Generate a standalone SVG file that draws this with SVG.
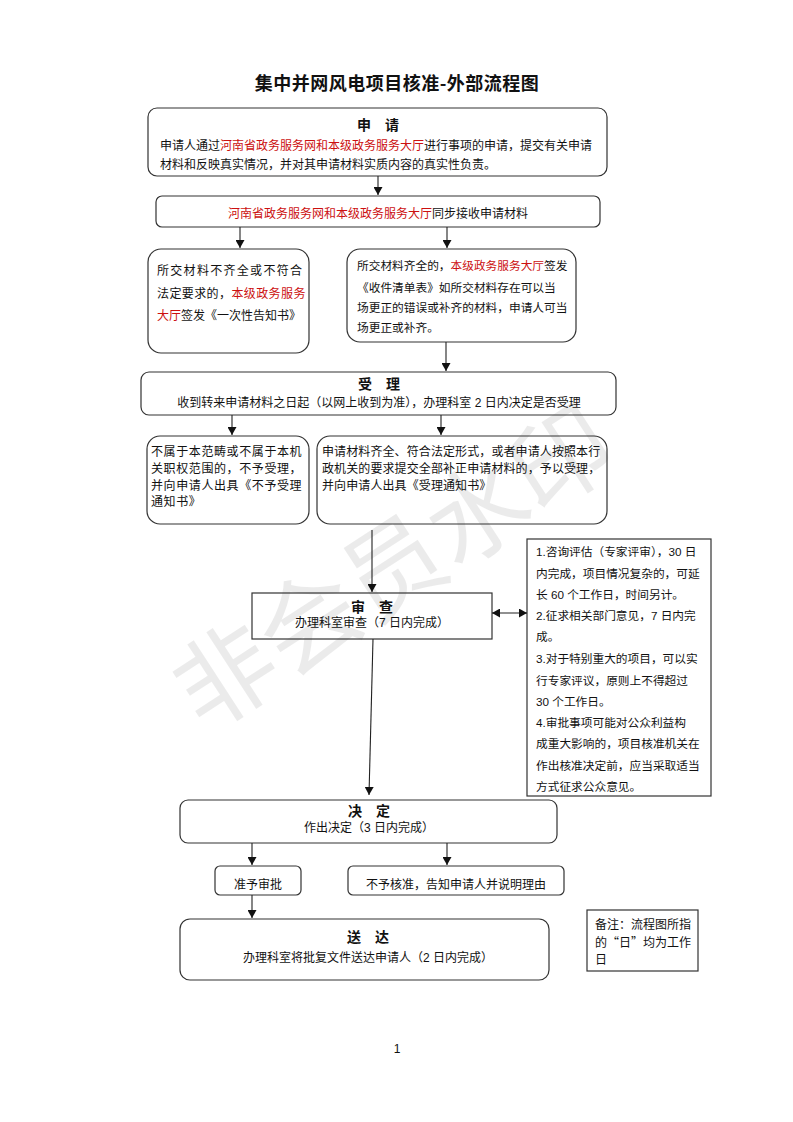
<svg xmlns="http://www.w3.org/2000/svg" width="793" height="1122" viewBox="0 0 793 1122">
<defs>
<style>
.t{font-family:"Liberation Sans","Noto Sans CJK SC",sans-serif;font-size:12px;fill:#111;}
.h{font-family:"Noto Sans CJK SC",sans-serif;font-size:14px;font-weight:bold;fill:#111;}
.r{fill:#cc1010;}
.box{fill:none;stroke:#333;stroke-width:1.2;}
.c line{stroke:#222;stroke-width:1.1;}
.wm{font-family:"Noto Sans CJK SC",sans-serif;font-size:100px;font-weight:400;fill:#000;fill-opacity:0.08;}
</style>
<marker id="a" markerUnits="userSpaceOnUse" markerWidth="9" markerHeight="9" refX="8" refY="4.5" orient="auto"><path d="M0,0 L8,4.5 L0,9 z" fill="#111"/></marker>
<marker id="as" markerUnits="userSpaceOnUse" markerWidth="9" markerHeight="9" refX="0" refY="4.5" orient="auto"><path d="M8,0 L0,4.5 L8,9 z" fill="#111"/></marker>
</defs>
<rect width="793" height="1122" fill="#fff"/>
<text class="wm" x="395" y="603" text-anchor="middle" transform="rotate(-33 395 570)">非会员水印</text>
<text x="397" y="90" text-anchor="middle" style="font-family:'Noto Sans CJK SC',sans-serif;font-size:18px;font-weight:bold;letter-spacing:0.5px" fill="#111">集中并网风电项目核准-外部流程图</text>

<g id="n1"><rect class="box" x="148" y="108" width="459" height="68" rx="9"/>
<text class="h" x="378" y="130" text-anchor="middle">申　请</text>
<text class="t" x="160" y="150">申请人通过<tspan class="r">河南省政务服务网和本级政务服务大厅</tspan>进行事项的申请，提交有关申请</text>
<text class="t" x="160" y="169">材料和反映真实情况，并对其申请材料实质内容的真实性负责。</text></g>

<g id="n2"><rect class="box" x="156" y="196" width="444" height="31" rx="6"/>
<text class="t" x="378" y="218" text-anchor="middle"><tspan class="r">河南省政务服务网和本级政务服务大厅</tspan>同步接收申请材料</text></g>

<g id="n3"><rect class="box" x="148" y="249" width="161" height="104" rx="13"/>
<text class="t" x="157" y="275" style="letter-spacing:1.3px">所交材料不齐全或不符合</text>
<text class="t" x="157" y="298" style="letter-spacing:0.4px">法定要求的，<tspan class="r">本级政务服务</tspan></text>
<text class="t" x="157" y="320"><tspan class="r">大厅</tspan>签发《一次性告知书》</text></g>

<g id="n4"><rect class="box" x="347" y="249" width="229" height="93" rx="13"/>
<text class="t" x="357" y="270" style="font-size:11.7px">所交材料齐全的，<tspan class="r">本级政务服务大厅</tspan>签发</text>
<text class="t" x="357" y="292" style="font-size:11.7px">《收件清单表》如所交材料存在可以当</text>
<text class="t" x="357" y="312" style="font-size:11.7px">场更正的错误或补齐的材料，申请人可当</text>
<text class="t" x="357" y="332" style="font-size:11.7px">场更正或补齐。</text></g>

<g id="n5"><rect class="box" x="141" y="372" width="475" height="43" rx="8"/>
<text class="h" x="379" y="389" text-anchor="middle">受　理</text>
<text class="t" x="379" y="407" text-anchor="middle">收到转来申请材料之日起（以网上收到为准），办理科室 2 日内决定是否受理</text></g>

<g id="n6"><rect class="box" x="147" y="436" width="162" height="88" rx="13"/>
<text class="t" x="151" y="456" style="letter-spacing:0.6px">不属于本范畴或不属于本机</text>
<text class="t" x="151" y="473" style="letter-spacing:0.6px">关职权范围的，不予受理，</text>
<text class="t" x="151" y="490" style="letter-spacing:0.6px">并向申请人出具《不予受理</text>
<text class="t" x="151" y="506" style="letter-spacing:0.6px">通知书》</text></g>

<g id="n7"><rect class="box" x="317" y="436" width="290" height="88" rx="13"/>
<text class="t" x="322" y="456" style="letter-spacing:0.1px">申请材料齐全、符合法定形式，或者申请人按照本行</text>
<text class="t" x="322" y="473" style="letter-spacing:0.1px">政机关的要求提交全部补正申请材料的，予以受理，</text>
<text class="t" x="322" y="490" style="letter-spacing:0.1px">并向申请人出具《受理通知书》</text></g>

<g id="n8"><rect class="box" x="252" y="593" width="240" height="46"/>
<text class="h" x="372" y="612" text-anchor="middle">审　查</text>
<text class="t" x="372" y="627" text-anchor="middle">办理科室审查（7 日内完成）</text></g>

<g id="n9"><rect class="box" x="527" y="539" width="184" height="257"/>
<text class="t" x="536" y="556" style="font-size:11.7px">1.咨询评估（专家评审），30 日</text>
<text class="t" x="536" y="578" style="font-size:11.7px">内完成，项目情况复杂的，可延</text>
<text class="t" x="536" y="599" style="font-size:11.7px">长 60 个工作日，时间另计。</text>
<text class="t" x="536" y="620" style="font-size:11.7px">2.征求相关部门意见，7 日内完</text>
<text class="t" x="536" y="641" style="font-size:11.7px">成。</text>
<text class="t" x="536" y="663" style="font-size:11.7px">3.对于特别重大的项目，可以实</text>
<text class="t" x="536" y="685" style="font-size:11.7px">行专家评议，原则上不得超过</text>
<text class="t" x="536" y="706" style="font-size:11.7px">30 个工作日。</text>
<text class="t" x="536" y="727" style="font-size:11.7px">4.审批事项可能对公众利益构</text>
<text class="t" x="536" y="748" style="font-size:11.7px">成重大影响的，项目核准机关在</text>
<text class="t" x="536" y="770" style="font-size:11.7px">作出核准决定前，应当采取适当</text>
<text class="t" x="536" y="791" style="font-size:11.7px">方式征求公众意见。</text>
</g>

<g id="n10"><rect class="box" x="180" y="800" width="377" height="43" rx="8"/>
<text class="h" x="369" y="816" text-anchor="middle">决　定</text>
<text class="t" x="369" y="832" text-anchor="middle">作出决定（3 日内完成）</text></g>

<g id="n11"><rect class="box" x="215" y="866" width="86" height="29" rx="5"/>
<text class="t" x="258" y="889" text-anchor="middle">准予审批</text></g>

<g id="n12"><rect class="box" x="348" y="866" width="216" height="29" rx="5"/>
<text class="t" x="456" y="889" text-anchor="middle">不予核准，告知申请人并说明理由</text></g>

<g id="n13"><rect class="box" x="180" y="919" width="369" height="61" rx="10"/>
<text class="h" x="368" y="942" text-anchor="middle">送　达</text>
<text class="t" x="368" y="962" text-anchor="middle">办理科室将批复文件送达申请人（2 日内完成）</text></g>

<g id="n14"><rect class="box" x="587" y="910" width="111" height="61"/>
<text class="t" x="595" y="929">备注：流程图所指</text>
<text class="t" x="595" y="947" style="font-family:'Noto Sans CJK SC',sans-serif">的“日”均为工作</text>
<text class="t" x="595" y="964">日</text></g>

<text class="t" x="397" y="1053" text-anchor="middle">1</text>

<g id="connectors" class="c">
<line x1="378" y1="176" x2="378" y2="195" marker-end="url(#a)"/>
<line x1="240" y1="227" x2="240" y2="248" marker-end="url(#a)"/>
<line x1="447" y1="227" x2="447" y2="248" marker-end="url(#a)"/>
<line x1="446" y1="342" x2="446" y2="371" marker-end="url(#a)"/>
<line x1="232" y1="415" x2="232" y2="435" marker-end="url(#a)"/>
<line x1="441" y1="415" x2="441" y2="435" marker-end="url(#a)"/>
<line x1="372" y1="530" x2="372" y2="592" marker-end="url(#a)"/>
<line x1="492" y1="613" x2="527" y2="613" marker-start="url(#as)" marker-end="url(#a)"/>
<line x1="373" y1="639" x2="369" y2="795" marker-end="url(#a)"/>
<line x1="252" y1="843" x2="252" y2="865" marker-end="url(#a)"/>
<line x1="447" y1="843" x2="447" y2="865" marker-end="url(#a)"/>
<line x1="252" y1="895" x2="252" y2="918" marker-end="url(#a)"/>
</g>
</svg>
